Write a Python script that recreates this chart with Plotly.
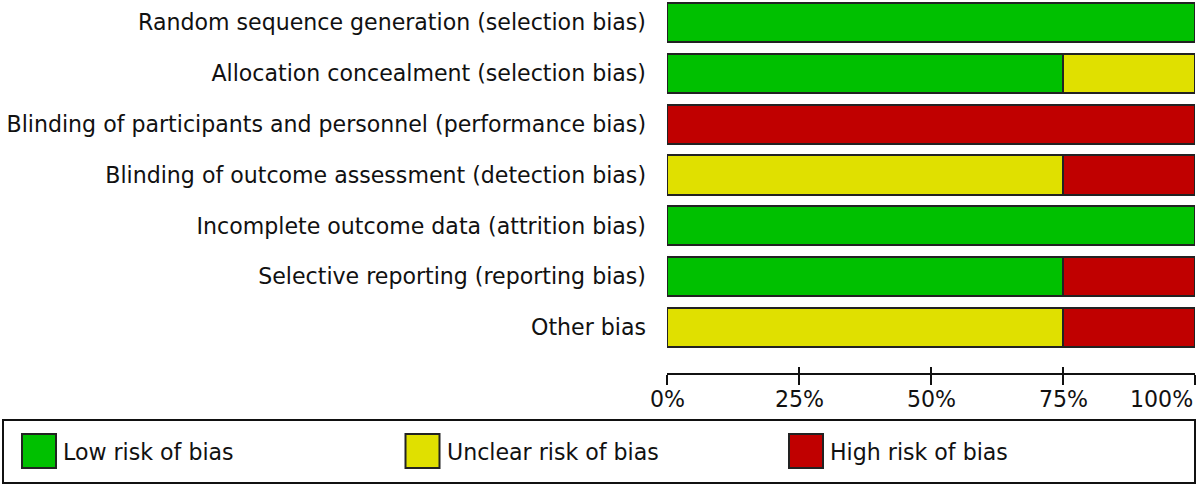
import plotly.graph_objects as go

W, H = 1200, 487

categories = [
    "Random sequence generation (selection bias)",
    "Allocation concealment (selection bias)",
    "Blinding of participants and personnel (performance bias)",
    "Blinding of outcome assessment (detection bias)",
    "Incomplete outcome data (attrition bias)",
    "Selective reporting (reporting bias)",
    "Other bias",
]
low_risk = [100, 75, 0, 0, 100, 75, 0]
unclear_risk = [0, 25, 0, 75, 0, 0, 75]
high_risk = [0, 0, 100, 25, 0, 25, 25]

series_names = ["Low risk of bias", "Unclear risk of bias", "High risk of bias"]
series_colors = ["#00C000", "#E0E000", "#C00000"]
series_values = [low_risk, unclear_risk, high_risk]

tick_values = [0, 25, 50, 75, 100]
tick_labels = ["0%", "25%", "50%", "75%", "100%"]

FONT = "DejaVu Sans, Verdana, sans-serif"
FS = 22.1
TXT = "#111111"

fig = go.Figure()
for name, color, vals in zip(series_names, series_colors, series_values):
    fig.add_trace(go.Bar(
        y=categories, x=vals, name=name, orientation="h",
        marker=dict(color=color, line=dict(color="#222222", width=2)),
        showlegend=False, hoverinfo="x+y+name",
    ))

def px_x(p):
    return p / W

def px_y(p):
    return 1 - p / H

x_dom = [px_x(667), px_x(1195)]
y_dom = [px_y(373), 1.0]
# first bar centre at y=22.5 px, spacing ~50.83 px
y_top = -22.5 / 50.83
y_bot = 6 + (373 - 327.5) / 50.83

fig.update_layout(
    width=W, height=H,
    margin=dict(l=0, r=0, t=0, b=0, autoexpand=False),
    barmode="stack", bargap=0.23,
    paper_bgcolor="white", plot_bgcolor="white",
    font=dict(family=FONT, size=FS, color=TXT),
    xaxis=dict(domain=x_dom, range=[0, 100], showgrid=False, zeroline=False,
               showline=True, linecolor="#111111", linewidth=2,
               tickvals=tick_values, ticks="outside", ticklen=10, tickwidth=2,
               tickcolor="#111111", showticklabels=False, automargin=False),
    xaxis2=dict(domain=x_dom, range=[0, 100], overlaying="x", anchor="y",
                side="bottom", showgrid=False, zeroline=False, showline=False,
                tickvals=tick_values, ticks="inside", ticklen=6, tickwidth=2,
                tickcolor="#111111", showticklabels=False),
    yaxis=dict(domain=y_dom, range=[y_bot, y_top], showgrid=False,
               zeroline=False, showline=False, ticks="", automargin=False,
               ticklabelstandoff=20, tickfont=dict(size=FS, color=TXT)),
)
fig.add_trace(go.Scatter(x=[None], y=[None], xaxis="x2", yaxis="y",
                         showlegend=False, hoverinfo="skip"))

# tick labels: centred on ticks, last one kept inside the plot edge
for i, (v, lab) in enumerate(zip(tick_values, tick_labels)):
    anchor = "right" if i == len(tick_values) - 1 else "center"
    fig.add_annotation(x=v, y=px_y(399), xref="x", yref="paper", text=lab,
                       showarrow=False, xanchor=anchor, yanchor="middle",
                       font=dict(size=FS, color=TXT, family=FONT))

# legend box
fig.add_shape(type="rect", xref="paper", yref="paper",
              x0=px_x(3), x1=px_x(1195), y0=px_y(483), y1=px_y(420),
              line=dict(color="#111111", width=2), fillcolor="rgba(0,0,0,0)")
leg_start, leg_step, sq = 22, 383.5, 34
for i, (name, color) in enumerate(zip(series_names, series_colors)):
    x0 = leg_start + i * leg_step
    fig.add_shape(type="rect", xref="paper", yref="paper",
                  x0=px_x(x0), x1=px_x(x0 + sq), y0=px_y(468), y1=px_y(434),
                  line=dict(color="#222222", width=2), fillcolor=color)
    fig.add_annotation(x=px_x(x0 + sq + 5), y=px_y(452), xref="paper", yref="paper",
                       text=name, showarrow=False, xanchor="left", yanchor="middle",
                       font=dict(size=FS, color=TXT, family=FONT))

fig.write_html(
    "out.html",
    config={"displayModeBar": False},
    post_script="document.body.style.margin='0';document.body.style.overflow='hidden';",
)
